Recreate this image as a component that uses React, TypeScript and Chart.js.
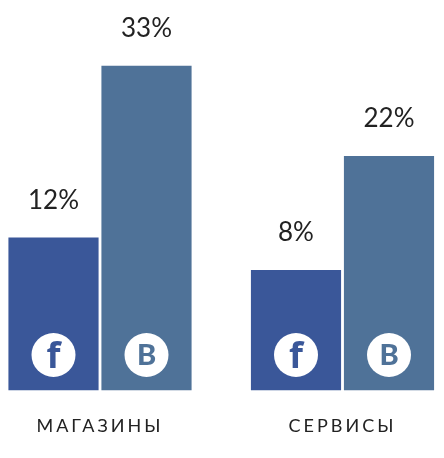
import React, { useEffect, useRef } from "react";
import { Chart, registerables } from "chart.js";

Chart.register(...registerables);

const categories = ["МАГАЗИНЫ", "СЕРВИСЫ"];
const seriesNames = ["Facebook", "ВКонтакте"];
const facebookLabels = [12, 8];
const vkLabels = [33, 22];
// Drawn bar heights (the source is not to scale with its labels)
const facebookHeights = [15.5, 12.2];
const vkHeights = [33, 23.8];
const colors = ["#3a5799", "#4f7298"];
const icons = ["f", "B"];

const overlay = {
  id: "overlay",
  beforeDraw(chart: any) {
    chart.ctx.letterSpacing = "3px";
  },
  afterDatasetsDraw(chart: any) {
    const ctx = chart.ctx;
    const base = chart.scales.y.getPixelForValue(0);
    chart.data.datasets.forEach((ds: any, di: number) => {
      chart.getDatasetMeta(di).data.forEach((bar: any, i: number) => {
        ctx.save();
        ctx.letterSpacing = "0px";
        ctx.textAlign = "center";
        ctx.textBaseline = "alphabetic";
        ctx.fillStyle = "#222222";
        ctx.font = "400 26px Lato";
        ctx.fillText(ds.valueLabels[i] + "%", bar.x, bar.y - 29);
        ctx.fillStyle = "#ffffff";
        ctx.beginPath();
        ctx.arc(bar.x, base - 35, 22, 0, Math.PI * 2);
        ctx.fill();
        ctx.fillStyle = colors[di];
        if (di === 0) {
          ctx.font = '700 36px "Open Sans"';
          ctx.fillText(icons[di], bar.x, base - 22);
        } else {
          ctx.font = "900 29px Lato";
          ctx.fillText(icons[di], bar.x, base - 25);
        }
        ctx.restore();
      });
    });
  },
};

export default function App() {
  const ref = useRef<HTMLCanvasElement>(null);
  useEffect(() => {
    document.body.style.margin = "0";
    const chart = new Chart(ref.current!, {
      type: "bar",
      data: {
        labels: categories,
        datasets: [
          {
            label: seriesNames[0],
            data: facebookHeights,
            backgroundColor: colors[0],
            valueLabels: facebookLabels,
            clip: false,
          } as any,
          {
            label: seriesNames[1],
            data: vkHeights,
            backgroundColor: colors[1],
            valueLabels: vkLabels,
            clip: false,
          } as any,
        ],
      },
      options: {
        animation: false,
        responsive: false,
        devicePixelRatio: 1,
        barThickness: 93,
        maxBarThickness: 89.5,
        layout: { padding: { left: 100, right: 101.5, top: 0, bottom: 0 } },
        plugins: { legend: { display: false }, tooltip: { enabled: false } },
        scales: {
          x: {
            offset: false,
            afterFit(scale: any) {
              scale.height = 68;
            },
            grid: { display: false },
            border: { display: false },
            ticks: {
              autoSkip: false,
              maxRotation: 0,
              padding: 17,
              color: "#222222",
              font: { family: "Lato", size: 18 },
            },
          },
          y: { display: false, min: 0, max: 39.72 },
        },
      } as any,
      plugins: [overlay],
    });
    return () => chart.destroy();
  }, []);
  return <canvas ref={ref} width={444} height={458} style={{ display: "block" }} />;
}
